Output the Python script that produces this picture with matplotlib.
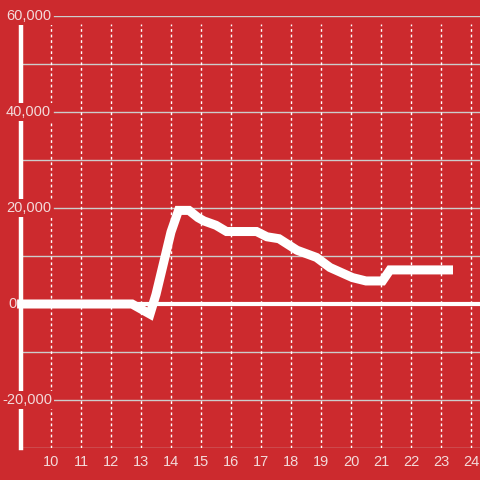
import matplotlib
matplotlib.use("Agg")
import matplotlib.pyplot as plt
import matplotlib.transforms as mtransforms

x_vals = [8.87, 12.7, 13.3, 13.5, 14.0, 14.25, 14.6, 14.9, 15.1, 15.5, 15.85, 16.85, 17.2, 17.6, 18.2, 18.85, 19.3, 20.05, 20.5, 21.05, 21.3, 23.4]
y_vals = [0, 0, -2100, 2000, 15000, 19500, 19500, 18000, 17300, 16400, 15100, 15100, 14000, 13600, 11200, 9700, 7600, 5500, 4800, 4800, 7100, 7100]

x_ticks = list(range(10, 25))
y_grid = list(range(-30000, 60001, 10000))
y_labels = [-20000, 0, 20000, 40000, 60000]

bg = "#cc2a2e"
txt = "#f3dada"

plt.rcParams['font.family'] = ['Liberation Sans', 'DejaVu Sans']
fig = plt.figure(figsize=(4.8, 4.8), dpi=100, facecolor=bg)
ax = fig.add_axes([21/480, 32/480, 459/480, 432/480])
ax.set_facecolor(bg)
ax.set_xlim(9, 24.3)
ax.set_ylim(-30000, 60000)

for s in ['top', 'right', 'bottom']:
    ax.spines[s].set_visible(False)
ax.spines['left'].set_color('white')
ax.spines['left'].set_linewidth(3.2)
ax.spines['left'].set_bounds(-30000, 58300)
ax.spines['left'].set_zorder(2)

for g in y_grid:
    if g in y_labels and g != 0:
        ax.axhline(g, xmin=33/459, xmax=1, color='#cccccc', lw=1, zorder=1)
    else:
        ax.axhline(g, color='#cccccc', lw=1, zorder=1)

ax.vlines(x_ticks, -30000, 58300, colors='white', linestyles=(0, (2, 2)), lw=1, zorder=1)
ax.axhline(0, color='white', lw=3, zorder=3)

ax.plot(x_vals, y_vals, color='white', lw=6.5, solid_joinstyle='miter',
        solid_capstyle='butt', zorder=4, clip_on=False)

trans = mtransforms.blended_transform_factory(fig.transFigure, ax.transData)
for v in y_labels:
    left_px = 2 if v < 0 else (8 if v == 0 else 6)
    kw = {}
    if v != 0:
        kw['bbox'] = dict(facecolor=bg, edgecolor='none', pad=1.5)
    ax.text(left_px/480, v, f"{v:,}", transform=trans, ha='left', va='center',
            color=txt, fontsize=10.5, zorder=5, **kw)

ax.set_yticks([])
ax.set_xticks(x_ticks)
ax.set_xticklabels([str(t) for t in x_ticks], color=txt, fontsize=10.5)
ax.tick_params(axis='x', length=0, pad=5)

fig.savefig("out.png", dpi=100, facecolor=bg)
